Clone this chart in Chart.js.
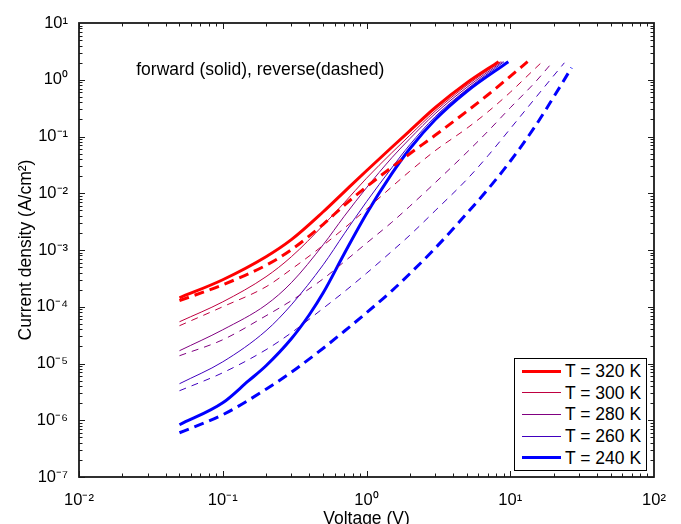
<!DOCTYPE html>
<html>
<head>
<meta charset="utf-8">
<title>Current density vs voltage</title>
<script src="https://cdn.jsdelivr.net/npm/chart.js@4.4.1/dist/chart.umd.min.js"></script>
<style>
  html, body { margin: 0; padding: 0; background: #fff; }
  #wrap { position: relative; width: 681px; height: 524px; }
  #legend {
    position: absolute; left: 514px; top: 358px; width: 131px; height: 111px;
    border: 1px solid #000; background: #fff;
    font: 17.5px "Liberation Sans", Arial, sans-serif; color: #000;
  }
  #legend .row { position: absolute; left: 0; width: 131px; height: 22px; }
  #legend .swatch { position: absolute; left: 7px; width: 39px; }
  #legend .lbl { position: absolute; left: 50px; top: 0; line-height: 22px; white-space: nowrap; }
</style>
</head>
<body>
<div id="wrap">
  <canvas id="chart"></canvas>
  <div id="legend"></div>
</div>
<script>
// ---- data (voltage in V, current density in A/cm^2) ----
const TEMP_LABELS = ['T = 320 K', 'T = 300 K', 'T = 280 K', 'T = 260 K', 'T = 240 K'];
const X_TICKS = [0.01, 0.1, 1, 10, 100];
const Y_TICKS = [1e-7, 1e-6, 1e-5, 1e-4, 1e-3, 1e-2, 1e-1, 1, 10];
const NOTE = 'forward (solid), reverse(dashed)';

// forward bias (solid)
const V_FWD_320 = [0.05, 0.1, 0.2, 0.3, 0.5, 0.7, 1, 1.5, 2, 3, 5, 8.3];
const J_FWD_320 = [1.44e-4, 2.99e-4, 7.6e-4, 1.52e-3, 4.72e-3, 1.06e-2, 2.49e-2, 6.46e-2, 0.126, 0.321, 0.885, 2.08];
const V_FWD_300 = [0.05, 0.1, 0.2, 0.3, 0.5, 0.7, 1, 1.5, 2, 3, 5, 8.55];
const J_FWD_300 = [5.44e-5, 1.22e-4, 3.38e-4, 7.6e-4, 2.73e-3, 6.8e-3, 1.84e-2, 5.17e-2, 0.105, 0.279, 0.80, 2.08];
const V_FWD_280 = [0.05, 0.1, 0.2, 0.3, 0.5, 0.7, 1, 1.5, 2, 3, 5, 8.8];
const J_FWD_280 = [1.68e-5, 3.93e-5, 1.08e-4, 2.65e-4, 1.24e-3, 3.93e-3, 1.25e-2, 4.22e-2, 9.13e-2, 0.252, 0.738, 2.08];
const V_FWD_260 = [0.05, 0.1, 0.2, 0.3, 0.5, 0.7, 1, 1.5, 2, 3, 5, 9.05];
const J_FWD_260 = [4.4e-6, 1.07e-5, 3.78e-5, 1.08e-4, 5.5e-4, 1.93e-3, 7.09e-3, 2.81e-2, 7.15e-2, 0.223, 0.68, 2.08];
const V_FWD_240 = [0.05, 0.1, 0.15, 0.2, 0.3, 0.4, 0.5, 0.7, 1, 1.5, 2, 3, 5, 9.7];
const J_FWD_240 = [8.33e-7, 2.03e-6, 4.87e-6, 9.13e-6, 2.73e-5, 7.23e-5, 1.76e-4, 8.59e-4, 4.35e-3, 2.21e-2, 6.08e-2, 0.197, 0.627, 2.08];

// reverse bias (dashed)
const V_REV_320 = [0.05, 0.1, 0.2, 0.3, 0.5, 0.7, 1, 1.5, 2, 3, 5, 7, 10, 13.2];
const J_REV_320 = [1.28e-4, 2.44e-4, 5.38e-4, 1.01e-3, 2.84e-3, 6.14e-3, 1.30e-2, 2.87e-2, 4.97e-2, 0.105, 0.279, 0.544, 1.15, 2.08];
const V_REV_300 = [0.05, 0.1, 0.2, 0.3, 0.5, 0.7, 1, 1.5, 2, 3, 5, 7, 10, 14, 16.7];
const J_REV_300 = [4.63e-5, 1.0e-4, 2.25e-4, 4.58e-4, 1.21e-3, 2.42e-3, 5.23e-3, 1.30e-2, 2.44e-2, 5.61e-2, 0.14, 0.273, 0.602, 1.36, 2.08];
const V_REV_280 = [0.05, 0.1, 0.2, 0.3, 0.5, 0.7, 1, 1.5, 2, 3, 5, 7, 10, 15, 19];
const J_REV_280 = [1.37e-5, 2.62e-5, 6.94e-5, 1.28e-4, 3.11e-4, 6.21e-4, 1.32e-3, 3.08e-3, 5.9e-3, 1.53e-2, 5.28e-2, 0.124, 0.321, 0.922, 1.84];
const V_REV_260 = [0.05, 0.1, 0.2, 0.3, 0.5, 0.7, 1, 1.5, 2, 3, 5, 7, 10, 15, 19, 23.8];
const J_REV_260 = [3.31e-6, 6.87e-6, 1.75e-5, 3.48e-5, 9.41e-5, 1.84e-4, 3.89e-4, 9.5e-4, 1.82e-3, 4.91e-3, 1.76e-2, 4.58e-2, 0.137, 0.482, 1.0, 1.99];
const V_REV_240 = [0.05, 0.1, 0.2, 0.3, 0.5, 0.7, 1, 1.5, 2, 3, 5, 7, 10, 15, 20, 26.7];
const J_REV_240 = [6.02e-7, 1.25e-6, 3.52e-6, 7.01e-6, 1.86e-5, 3.7e-5, 7.84e-5, 1.91e-4, 3.82e-4, 1.07e-3, 4.44e-3, 1.18e-2, 3.66e-2, 0.155, 0.491, 1.63];

// ---- styles ----
const COLORS = ['#ff0000', '#bf0040', '#800080', '#4000bf', '#0000ff'];
const WIDTHS = [3, 1, 1, 1, 3];
const FONT = '"Liberation Sans", Arial, Helvetica, sans-serif';

const FWD = [[V_FWD_320, J_FWD_320], [V_FWD_300, J_FWD_300], [V_FWD_280, J_FWD_280], [V_FWD_260, J_FWD_260], [V_FWD_240, J_FWD_240]];
const REV = [[V_REV_320, J_REV_320], [V_REV_300, J_REV_300], [V_REV_280, J_REV_280], [V_REV_260, J_REV_260], [V_REV_240, J_REV_240]];

const SUP = { '-': '\u207B', '0': '\u2070', '1': '\u00B9', '2': '\u00B2', '3': '\u00B3', '4': '\u2074', '5': '\u2075', '6': '\u2076', '7': '\u2077', '8': '\u2078', '9': '\u2079' };
const powLabel = (v) => '10' + String(Math.round(Math.log10(v))).split('').map(c => SUP[c]).join('');

const toPoints = (vs, js) => vs.map((v, i) => ({ x: v, y: js[i] }));

const datasets = [];
REV.forEach(([vs, js], i) => {
  datasets.push({
    label: TEMP_LABELS[i] + ' reverse',
    data: toPoints(vs, js),
    borderColor: COLORS[i],
    borderWidth: WIDTHS[i],
    borderDash: WIDTHS[i] > 1 ? [10, 6] : [7, 6],
  });
});
FWD.forEach(([vs, js], i) => {
  datasets.push({
    label: TEMP_LABELS[i],
    data: toPoints(vs, js),
    borderColor: COLORS[i],
    borderWidth: WIDTHS[i],
  });
});

// axis box with inward major/minor ticks on all four sides, plus the note
const axisBox = {
  id: 'axisBox',
  afterDatasetsDraw(chart) {
    const { ctx, chartArea: a, scales: { x, y } } = chart;
    ctx.save();
    ctx.strokeStyle = '#1a1a1a';
    ctx.lineWidth = 1;
    ctx.beginPath();
    for (let e = -2; e < 2; e++) {
      for (let m = 1; m < 10; m++) {
        const px = Math.round(x.getPixelForValue(m * Math.pow(10, e))) + 0.5;
        const len = m === 1 ? 6 : 3.5;
        ctx.moveTo(px, a.bottom); ctx.lineTo(px, a.bottom - len);
        ctx.moveTo(px, a.top); ctx.lineTo(px, a.top + len);
      }
    }
    for (let e = -7; e < 1; e++) {
      for (let m = 1; m < 10; m++) {
        const py = Math.round(y.getPixelForValue(m * Math.pow(10, e))) + 0.5;
        const len = m === 1 ? 6 : 3.5;
        ctx.moveTo(a.left, py); ctx.lineTo(a.left + len, py);
        ctx.moveTo(a.right, py); ctx.lineTo(a.right - len, py);
      }
    }
    ctx.stroke();
    ctx.lineWidth = 1.8;
    ctx.strokeRect(a.left, a.top, a.right - a.left, a.bottom - a.top);

    ctx.fillStyle = '#000';
    ctx.font = '17.5px ' + FONT;
    ctx.textBaseline = 'middle';
    ctx.textAlign = 'left';
    ctx.fillText(NOTE, x.getPixelForValue(0.025), y.getPixelForValue(1.5));
    ctx.restore();
  }
};

new Chart(document.getElementById('chart'), {
  type: 'line',
  data: { datasets },
  plugins: [axisBox],
  options: {
    responsive: true,
    maintainAspectRatio: false,
    animation: false,
    layout: { padding: { top: 23, right: 27, left: 0, bottom: 0 } },
    elements: {
      point: { radius: 0, hoverRadius: 0 },
      line: { cubicInterpolationMode: 'monotone', fill: false, borderCapStyle: 'butt' }
    },
    plugins: { legend: { display: false }, tooltip: { enabled: false } },
    scales: {
      x: {
        type: 'logarithmic',
        min: 0.01, max: 100,
        afterFit: (s) => { s.height = 47; },
        afterBuildTicks: (s) => { s.ticks = X_TICKS.map(v => ({ value: v })); },
        grid: { display: false, drawTicks: false },
        border: { display: false },
        ticks: { padding: 14, color: '#000', font: { family: FONT, size: 16.5 }, maxRotation: 0, autoSkip: false, callback: (v) => powLabel(v) },
        title: { display: true, text: 'Voltage (V)', color: '#000', font: { family: FONT, size: 17.5, lineHeight: 1 }, padding: { top: 0, bottom: -4 } }
      },
      y: {
        type: 'logarithmic',
        min: 1e-7, max: 10,
        afterFit: (s) => { s.width = 79; },
        afterBuildTicks: (s) => { s.ticks = Y_TICKS.map(v => ({ value: v })); },
        grid: { display: false, drawTicks: false },
        border: { display: false },
        ticks: { padding: 11, color: '#000', font: { family: FONT, size: 16.5 }, autoSkip: false, callback: (v) => powLabel(v) },
        title: { display: true, text: 'Current density (A/cm\u00B2)', color: '#000', font: { family: FONT, size: 17.5, lineHeight: 1 }, padding: { top: 17, bottom: 0 } }
      }
    }
  }
});

// legend box (forward curves only, as in the figure)
document.getElementById('legend').innerHTML = TEMP_LABELS.map((t, i) => {
  const top = 1 + i * 21.7;
  return `<div class="row" style="top:${top}px">
    <div class="swatch" style="top:${11 - WIDTHS[i] / 2}px;border-top:${WIDTHS[i]}px solid ${COLORS[i]}"></div>
    <div class="lbl">${t}</div>
  </div>`;
}).join('');
</script>
</body>
</html>
